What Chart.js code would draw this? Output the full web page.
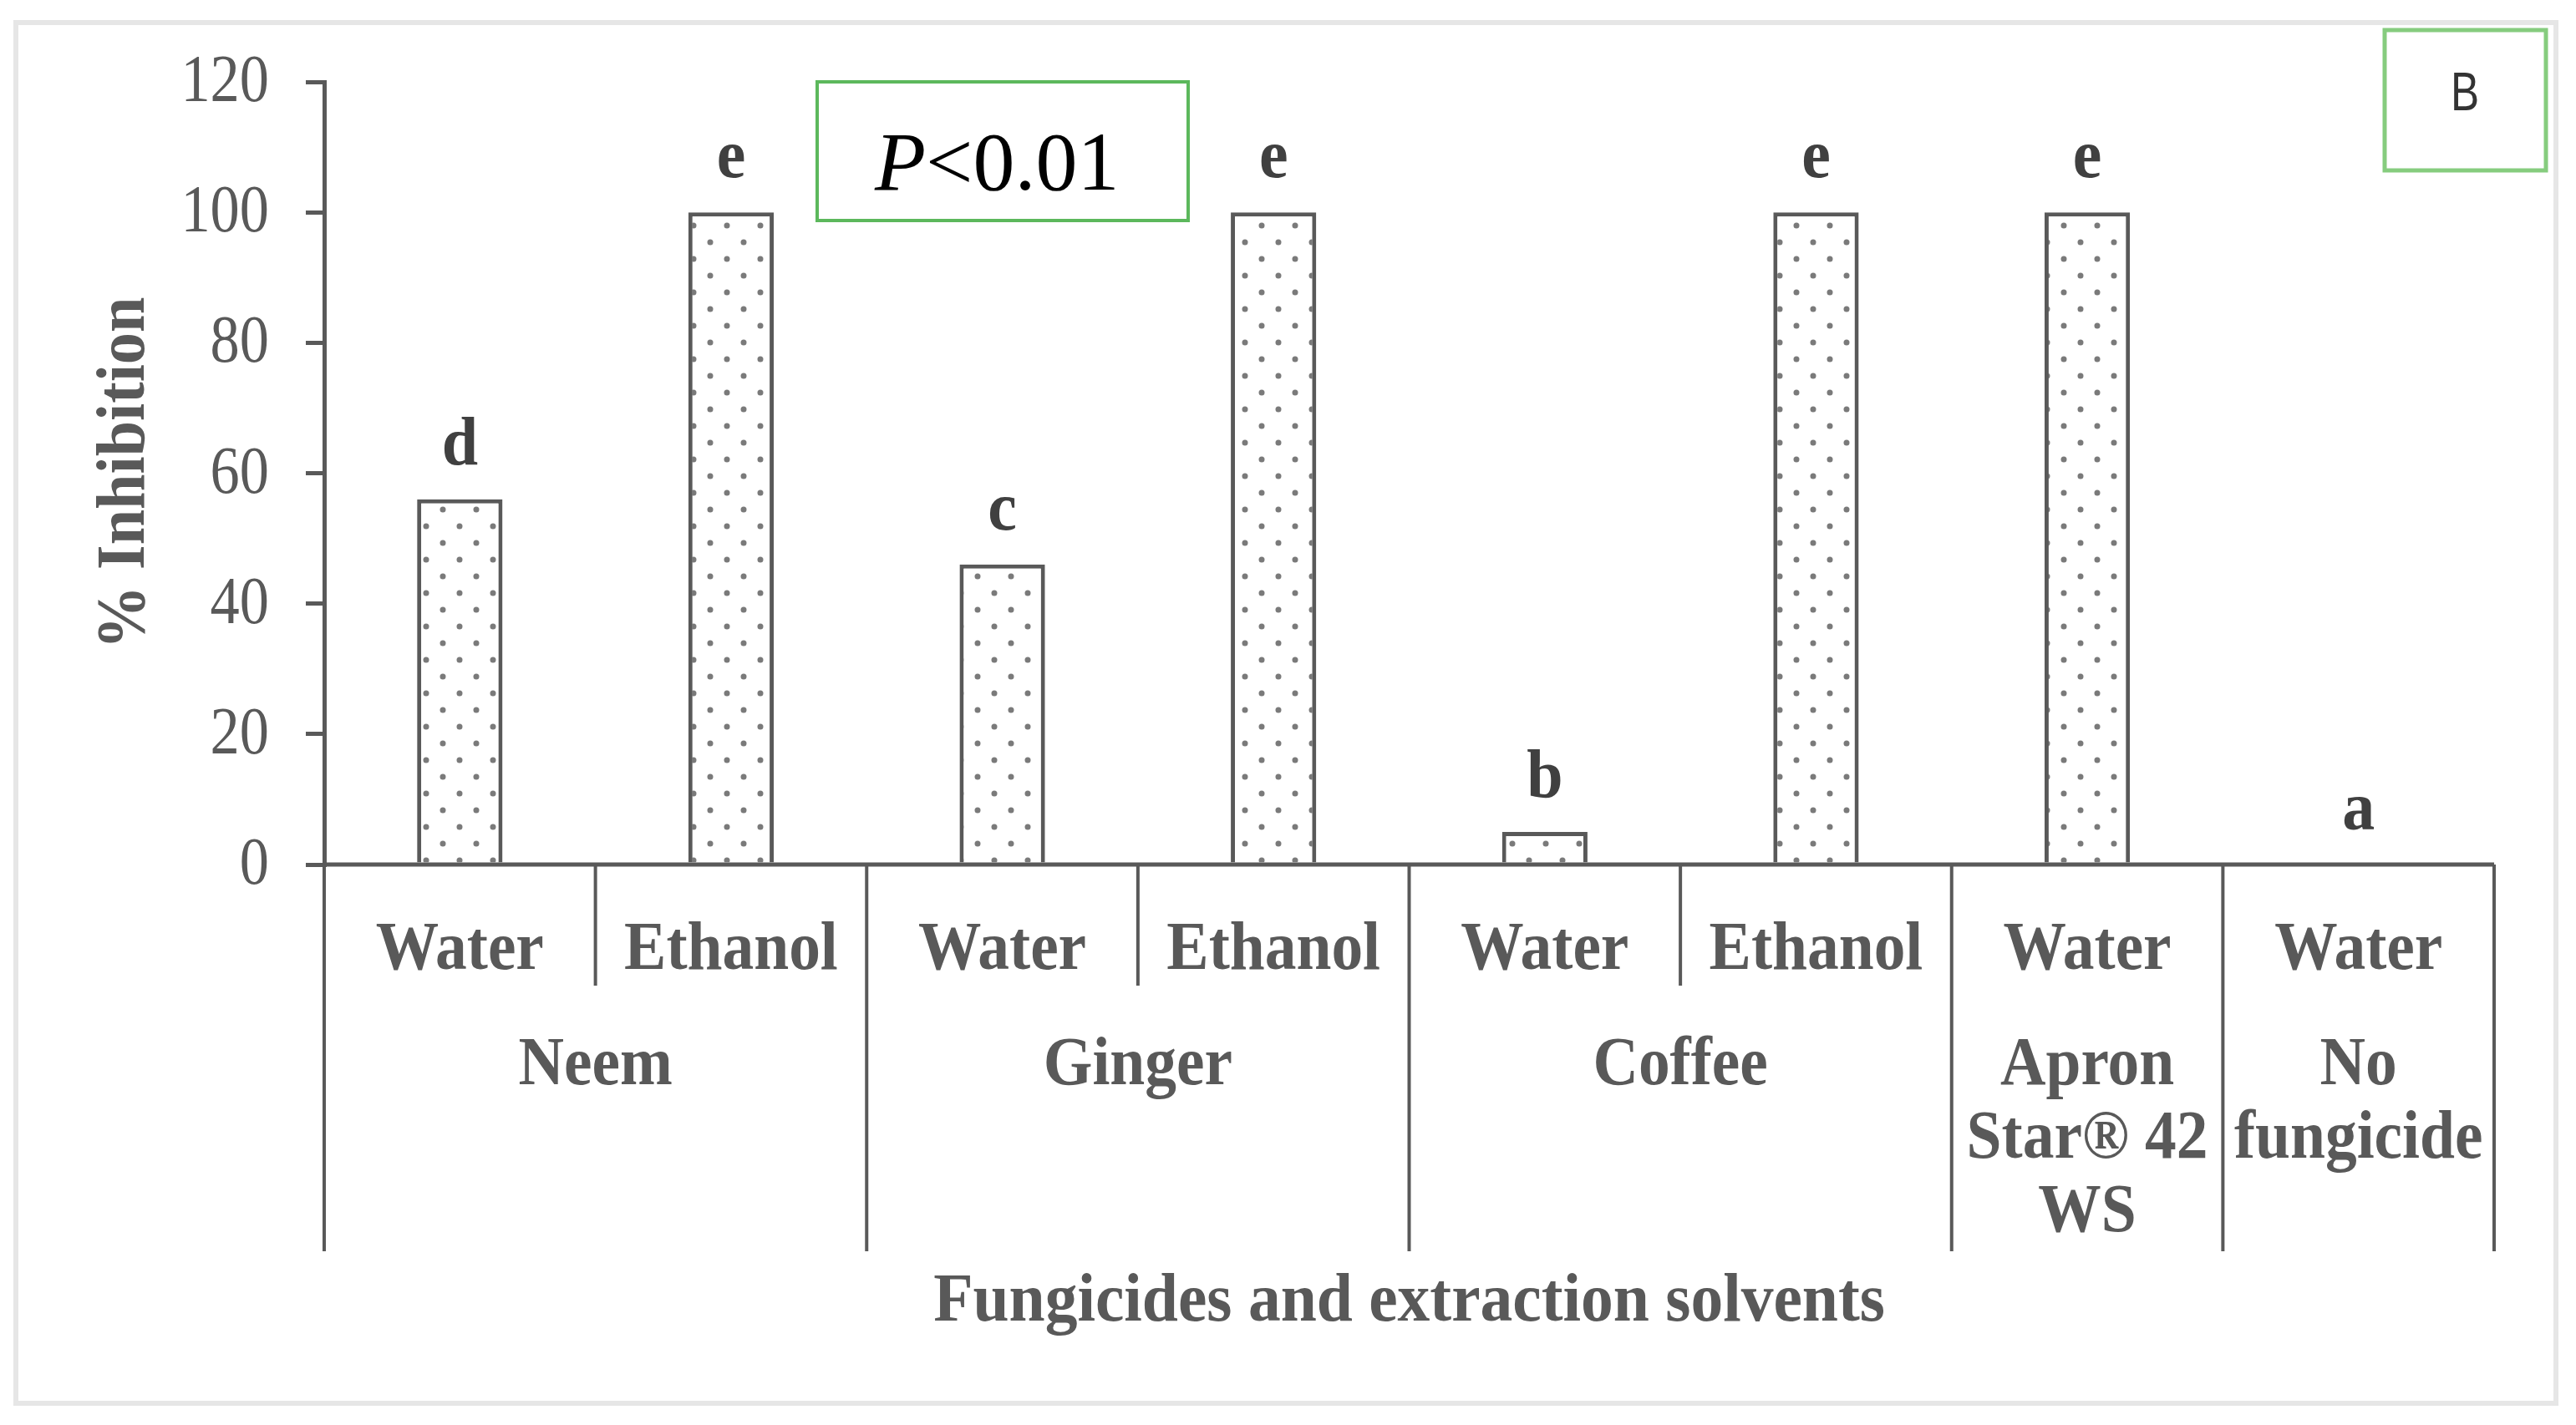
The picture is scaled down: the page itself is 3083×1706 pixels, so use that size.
<!DOCTYPE html>
<html>
<head>
<meta charset="utf-8">
<script src="https://cdn.jsdelivr.net/npm/chart.js@4.4.1/dist/chart.umd.min.js"></script>
<style>
  html, body { margin: 0; padding: 0; background: #fff; }
  #wrap { width: 3083px; height: 1706px; }
</style>
</head>
<body>
<div id="wrap"><canvas id="inhibChart" width="3083" height="1706"></canvas></div>
<script>
// data
var subLabels = ['Water', 'Ethanol', 'Water', 'Ethanol', 'Water', 'Ethanol', 'Water', 'Water'];
var groupNames = [['Neem'], ['Ginger'], ['Coffee'], ['Apron', 'Star\u00AE 42', 'WS'], ['No', 'fungicide']];
var groupSizes = [2, 2, 2, 1, 1];
var inhibition = [56, 100, 46, 100, 5, 100, 100, 0];
var letters = ['d', 'e', 'c', 'e', 'b', 'e', 'e', 'a'];
var yTicks = [0, 20, 40, 60, 80, 100, 120];

var GRAY = '#595959';
var SERIF = '"Liberation Serif", "Times New Roman", serif';

// dotted fill like the original bars
function dotPattern() {
  var c = document.createElement('canvas');
  c.width = 40; c.height = 40;
  var g = c.getContext('2d');
  g.fillStyle = '#fff';
  g.fillRect(0, 0, 40, 40);
  g.fillStyle = '#7a7a7a';
  [[10, 10], [30, 30]].forEach(function (p) {
    g.beginPath();
    g.arc(p[0], p[1], 3.5, 0, Math.PI * 2);
    g.fill();
  });
  return g.createPattern(c, 'repeat');
}

// squeezed text, the source figure uses narrow glyphs
function txt(ctx, s, x, y, sq) {
  ctx.save();
  ctx.translate(x, y);
  ctx.scale(sq || 1, 1);
  ctx.fillText(s, 0, 0);
  ctx.restore();
}

var extras = {
  id: 'extras',
  afterDraw: function (chart) {
    var ctx = chart.ctx,
      area = chart.chartArea,
      xs = chart.scales.x,
      ys = chart.scales.y,
      meta = chart.getDatasetMeta(0);

    ctx.save();

    // light frame round the whole figure
    ctx.strokeStyle = '#e6e6e6';
    ctx.lineWidth = 6;
    ctx.strokeRect(19, 27, 3040, 1653);

    // y tick labels
    ctx.fillStyle = GRAY;
    ctx.font = '80px ' + SERIF;
    ctx.textAlign = 'right';
    ctx.textBaseline = 'middle';
    yTicks.forEach(function (v) {
      txt(ctx, String(v), 322, ys.getPixelForValue(v) + 2, 0.88);
    });

    // y title
    ctx.save();
    ctx.translate(172, (area.top + area.bottom) / 2);
    ctx.rotate(-Math.PI / 2);
    ctx.font = 'bold 82px ' + SERIF;
    ctx.textAlign = 'center';
    ctx.textBaseline = 'alphabetic';
    txt(ctx, '% Inhibition', 0, 0, 0.93);
    ctx.restore();

    // x axis line and category separators
    var n = subLabels.length;
    var half = (xs.getPixelForValue(1) - xs.getPixelForValue(0)) / 2;
    var edge = function (i) { return xs.getPixelForValue(i) - half; };
    var right = edge(n);
    ctx.strokeStyle = GRAY;
    ctx.lineWidth = 5;
    ctx.beginPath();
    ctx.moveTo(area.left, area.bottom);
    ctx.lineTo(right, area.bottom);
    ctx.stroke();

    var starts = [0];
    groupSizes.forEach(function (s, k) { starts.push(starts[k] + s); });
    ctx.lineWidth = 4;
    for (var i = 0; i <= n; i++) {
      var long = starts.indexOf(i) >= 0;
      var x = edge(i);
      ctx.beginPath();
      ctx.moveTo(x, area.bottom);
      ctx.lineTo(x, long ? 1498 : 1180);
      ctx.stroke();
    }

    // sub labels
    ctx.fillStyle = GRAY;
    ctx.font = 'bold 82px ' + SERIF;
    ctx.textAlign = 'center';
    ctx.textBaseline = 'alphabetic';
    subLabels.forEach(function (s, i) {
      txt(ctx, s, xs.getPixelForValue(i), 1160, 0.92);
    });

    // group labels
    groupNames.forEach(function (lines, k) {
      var cx = (edge(starts[k]) + edge(starts[k + 1])) / 2;
      lines.forEach(function (s, j) {
        txt(ctx, s, cx, 1298 + j * 88, 0.92);
      });
    });

    // x title
    txt(ctx, 'Fungicides and extraction solvents', (area.left + right) / 2, 1581, 0.945);

    // significance letters above bars
    ctx.fillStyle = '#404040';
    meta.data.forEach(function (bar, i) {
      txt(ctx, letters[i], bar.x, bar.y - 42, 0.95);
    });

    // P value box
    ctx.strokeStyle = '#5cb85c';
    ctx.lineWidth = 4;
    ctx.strokeRect(978, 98, 444, 166);
    ctx.fillStyle = '#000';
    ctx.textAlign = 'left';
    ctx.font = 'italic 100px ' + SERIF;
    ctx.fillText('P', 1047, 227);
    var pw = ctx.measureText('P').width;
    ctx.font = '100px ' + SERIF;
    ctx.fillText('<0.01', 1047 + pw, 227);

    // panel letter box
    ctx.strokeStyle = '#86cc7e';
    ctx.lineWidth = 5;
    ctx.strokeRect(2854, 36, 193, 168);
    ctx.fillStyle = '#333';
    ctx.textAlign = 'center';
    ctx.font = '64px "Liberation Sans", Arial, sans-serif';
    txt(ctx, 'B', 2950, 132, 0.8);

    ctx.restore();
  }
};

var chart = new Chart(document.getElementById('inhibChart').getContext('2d'), {
  type: 'bar',
  data: {
    labels: subLabels,
    datasets: [{
      data: inhibition,
      backgroundColor: dotPattern(),
      borderColor: GRAY,
      borderWidth: 5,
      borderSkipped: 'bottom',
      categoryPercentage: 1,
      barPercentage: 0.315
    }]
  },
  options: {
    responsive: false,
    animation: false,
    devicePixelRatio: 1,
    layout: { padding: { left: 0, top: 98, right: 98, bottom: 671 } },
    plugins: { legend: { display: false }, tooltip: { enabled: false } },
    scales: {
      x: { display: false },
      y: {
        min: 0,
        max: 120,
        afterFit: function (s) { s.width = 388; },
        afterBuildTicks: function (s) { s.ticks = yTicks.map(function (v) { return { value: v }; }); },
        ticks: { display: false },
        grid: { drawOnChartArea: false, drawTicks: true, tickLength: 22, color: GRAY, lineWidth: 5 },
        border: { display: true, color: GRAY, width: 5 }
      }
    }
  },
  plugins: [extras]
});
</script>
</body>
</html>
